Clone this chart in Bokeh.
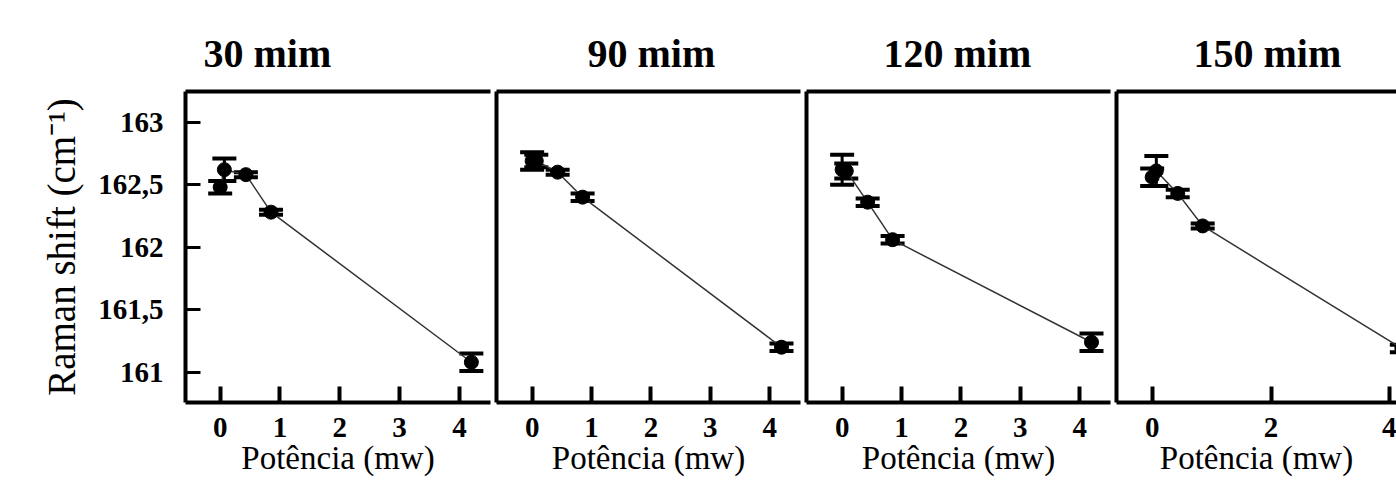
from bokeh.plotting import figure
from bokeh.layouts import row
from bokeh.models import (ColumnDataSource, Whisker, TeeHead, FixedTicker,
                          LinearAxis, Range1d, Title)
from bokeh.embed import file_html
from bokeh.resources import INLINE

# ---------------- data ----------------
power = [0.0, 0.07, 0.43, 0.85, 4.2]
titles = ["30 mim", "90 mim", "120 mim", "150 mim"]
shift_30 = [162.48, 162.62, 162.58, 162.28, 161.08]
err_30 = [0.05, 0.09, 0.02, 0.02, 0.07]
shift_90 = [162.69, 162.69, 162.60, 162.40, 161.20]
err_90 = [0.07, 0.05, 0.02, 0.03, 0.03]
shift_120 = [162.62, 162.61, 162.36, 162.06, 161.24]
err_120 = [0.12, 0.06, 0.03, 0.03, 0.07]
shift_150 = [162.56, 162.61, 162.43, 162.17, 161.19]
err_150 = [0.07, 0.12, 0.03, 0.02, 0.03]
y_ticks = [161, 161.5, 162, 162.5, 163]
y_tick_labels = ["161", "161,5", "162", "162,5", "163"]
x_ticks_full = [0, 1, 2, 3, 4]
x_ticks_last = [0, 2, 4]
x_label = "Potência (mw)"
y_label = "Raman shift (cm\u207b\u00b9)"

FONT = "Liberation Serif"
Y_START, Y_END = 160.758, 163.245

panels = [
    dict(title=titles[0], y=shift_30, e=err_30, ticks=x_ticks_full, xr=(-0.58, 4.52),
         width=493, mbl=185, mbr=3, toff=18),
    dict(title=titles[1], y=shift_90, e=err_90, ticks=x_ticks_full, xr=(-0.60, 4.52),
         width=310, mbl=3, mbr=3, toff=91),
    dict(title=titles[2], y=shift_120, e=err_120, ticks=x_ticks_full, xr=(-0.60, 4.52),
         width=310, mbl=3, mbr=3, toff=77),
    dict(title=titles[3], y=shift_150, e=err_150, ticks=x_ticks_last, xr=(-0.60, 4.11),
         width=283, mbl=3, mbr=0, toff=77),
]

figs = []
for i, pn in enumerate(panels):
    p = figure(width=pn["width"], height=486,
               x_range=Range1d(*pn["xr"]), y_range=Range1d(Y_START, Y_END),
               output_backend="svg", toolbar_location=None, tools="",
               min_border_left=pn["mbl"], min_border_right=pn["mbr"],
               min_border_top=91, min_border_bottom=84,
               outline_line_color=None, background_fill_color="white",
               border_fill_color="white")
    p.title = Title(text=pn["title"], align="left", offset=pn["toff"],
                    text_font=FONT, text_font_size="40px", text_font_style="bold",
                    text_color="black", standoff=32)
    p.xgrid.visible = False
    p.ygrid.visible = False

    src = ColumnDataSource(dict(
        x=power, y=pn["y"],
        upper=[v + e for v, e in zip(pn["y"], pn["e"])],
        lower=[v - e for v, e in zip(pn["y"], pn["e"])],
    ))
    p.line("x", "y", source=src, line_color="#333333", line_width=1.5)
    wh = Whisker(source=src, base="x", upper="upper", lower="lower",
                 line_color="black", line_width=3,
                 upper_head=TeeHead(size=24, line_width=4, line_color="black"),
                 lower_head=TeeHead(size=24, line_width=4, line_color="black"))
    p.add_layout(wh)
    p.scatter("x", "y", source=src, size=14, fill_color="black", line_color="black")

    # x axis (bottom)
    xa = p.xaxis[0]
    xa.ticker = FixedTicker(ticks=pn["ticks"])
    xa.axis_line_width = 4
    xa.axis_line_color = "black"
    xa.major_tick_in = 16
    xa.major_tick_out = 0
    xa.major_tick_line_width = 4
    xa.minor_tick_line_color = None
    xa.major_label_standoff = 15
    xa.major_label_text_font = FONT
    xa.major_label_text_font_size = "29px"
    xa.major_label_text_font_style = "bold"
    xa.major_label_text_color = "black"
    xa.axis_label = x_label
    xa.axis_label_text_font = FONT
    xa.axis_label_text_font_size = "33px"
    xa.axis_label_text_font_style = "normal"
    xa.axis_label_text_color = "black"
    xa.axis_label_standoff = 0

    # y axis (left)
    ya = p.yaxis[0]
    ya.axis_line_width = 4
    ya.axis_line_color = "black"
    ya.minor_tick_line_color = None
    if i == 0:
        ya.ticker = FixedTicker(ticks=y_ticks)
        ya.major_label_overrides = dict(zip(y_ticks, y_tick_labels))
        ya.major_tick_in = 15
        ya.major_tick_out = 0
        ya.major_tick_line_width = 3
        ya.major_label_standoff = 22
        ya.major_label_text_font = FONT
        ya.major_label_text_font_size = "29px"
        ya.major_label_text_font_style = "bold"
        ya.major_label_text_color = "black"
        ya.axis_label = y_label
        ya.axis_label_text_font = FONT
        ya.axis_label_text_font_size = "39px"
        ya.axis_label_text_font_style = "normal"
        ya.axis_label_text_color = "black"
        ya.axis_label_standoff = 12
    else:
        ya.ticker = FixedTicker(ticks=[])
        ya.major_tick_line_color = None
        ya.major_tick_in = 0
        ya.major_tick_out = 0
        ya.major_label_standoff = 0
        ya.major_label_text_font_size = "0px"

    # top border line
    top = LinearAxis(ticker=FixedTicker(ticks=[]), axis_line_width=4,
                     axis_line_color="black", major_tick_line_color=None,
                     minor_tick_line_color=None, major_tick_in=0, major_tick_out=0,
                     major_label_standoff=0, major_label_text_font_size="0px")
    p.add_layout(top, "above")
    figs.append(p)

layout = row(*figs, spacing=0)
open("out.html", "w").write(file_html(layout, INLINE))
